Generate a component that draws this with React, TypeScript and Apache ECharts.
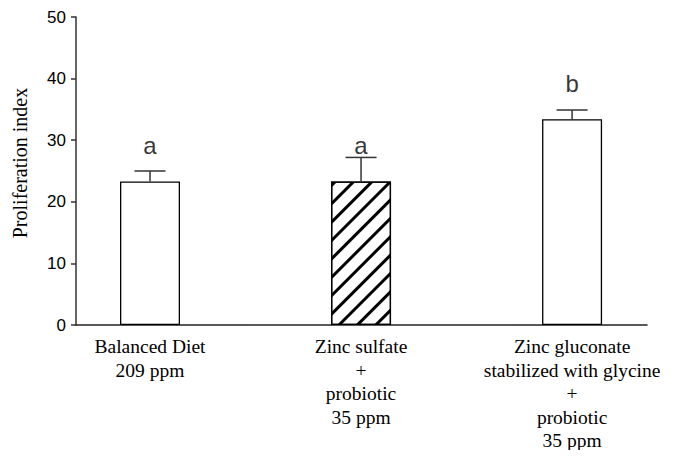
import React, { useEffect, useRef } from "react";
import * as echarts from "echarts";

const categories = [
  "Balanced Diet\n209 ppm",
  "Zinc sulfate\n+\nprobiotic\n35 ppm",
  "Zinc gluconate\nstabilized with glycine\n+\nprobiotic\n35 ppm",
];
const means = [23.3, 23.3, 33.4];
const errors = [1.7, 3.9, 1.5];
const sigLetters = ["a", "a", "b"];
const letterY = [29.1, 29.1, 39.2];
const yTicks = [0, 10, 20, 30, 40, 50];

export default function App() {
  const ref = useRef<HTMLDivElement>(null);
  useEffect(() => {
    if (!ref.current) return;
    const chart = echarts.init(ref.current, undefined, { renderer: "svg" });
    const option: any = {
      animation: false,
      backgroundColor: "#fff",
      grid: { left: 76, right: 37, top: 17, bottom: 133, containLabel: false },
      xAxis: {
        type: "value",
        min: -0.3507,
        max: 2.355,
        splitLine: { show: false },
        axisTick: { show: false },
        axisLine: { show: true, onZero: false, lineStyle: { color: "#222", width: 1.5 } },
        axisLabel: {
          customValues: [0, 1, 2],
          formatter: (v: number) => categories[Math.round(v)] ?? "",
          fontFamily: "Liberation Serif",
          fontSize: 19.5,
          lineHeight: 23.5,
          color: "#000",
          margin: 10,
          verticalAlign: "top",
        },
      },
      yAxis: {
        type: "value",
        min: yTicks[0],
        max: yTicks[yTicks.length - 1],
        interval: 10,
        splitLine: { show: false },
        axisLine: { show: true, onZero: false, lineStyle: { color: "#333", width: 1.5 } },
        axisTick: { show: true, length: 5, lineStyle: { color: "#333", width: 1.5 } },
        axisLabel: { fontFamily: "Liberation Sans", fontSize: 17, color: "#000", margin: 10 },
        name: "Proliferation index",
        nameLocation: "middle",
        nameGap: 46,
        nameRotate: 90,
        nameTextStyle: { fontFamily: "Liberation Serif", fontSize: 20, color: "#000", padding: [0, 0, 0, 16] },
      },
      series: [
        {
          type: "bar",
          barWidth: 60,
          data: means.map((m, i) => ({
            value: [i, m],
            itemStyle:
              i === 1
                ? {
                    color: "#fff",
                    borderColor: "#000",
                    borderWidth: 1.3,
                    decal: {
                      symbol: "rect",
                      symbolSize: 1,
                      color: "#000",
                      backgroundColor: null,
                      dashArrayX: [1, 0],
                      dashArrayY: [2.2, 9.2],
                      rotation: -Math.PI / 4,
                    },
                  }
                : { color: "#fff", borderColor: "#000", borderWidth: 1.3 },
          })),
        },
        {
          type: "custom",
          data: means.map((m, i) => [i, m, m + errors[i]]),
          renderItem: (params: any, api: any) => {
            const x = api.value(0);
            const p0 = api.coord([x, api.value(1)]);
            const p1 = api.coord([x, api.value(2)]);
            const half = 15.5;
            return {
              type: "group",
              children: [
                { type: "line", shape: { x1: p0[0], y1: p0[1], x2: p1[0], y2: p1[1] }, style: { stroke: "#333", lineWidth: 1.5 } },
                { type: "line", shape: { x1: p1[0] - half, y1: p1[1], x2: p1[0] + half, y2: p1[1] }, style: { stroke: "#333", lineWidth: 1.5 } },
              ],
            };
          },
          z: 3,
        },
        {
          type: "scatter",
          symbolSize: 0,
          data: letterY.map((y, i) => [i, y]),
          label: {
            show: true,
            position: "inside",
            formatter: (p: any) => sigLetters[p.dataIndex],
            fontFamily: "Liberation Sans",
            fontSize: 24,
            color: "#000",
          },
          z: 4,
        },
      ],
    };
    chart.setOption(option);
    return () => chart.dispose();
  }, []);
  return <div ref={ref} style={{ width: 684, height: 458, margin: -8 }} />;
}
